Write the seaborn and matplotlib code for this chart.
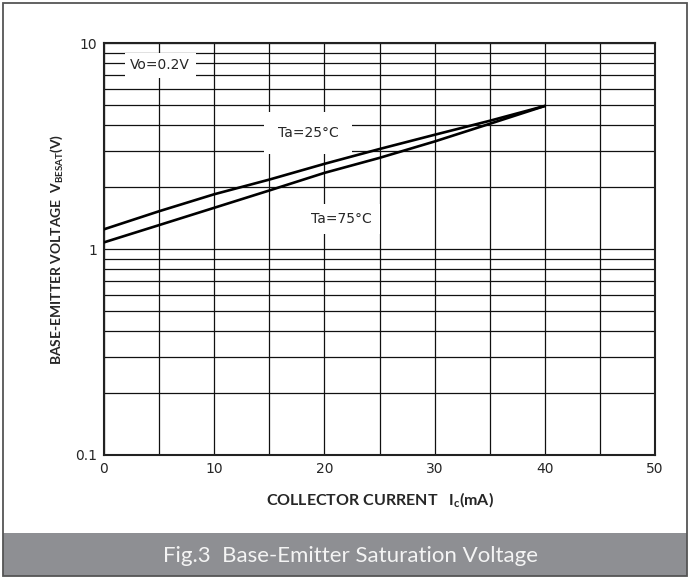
import matplotlib
matplotlib.use('Agg')
import matplotlib.pyplot as plt
import matplotlib.ticker as mticker
from matplotlib.patches import Rectangle
import pandas as pd
import seaborn as sns

# Data
current_ma = [0, 5, 10, 15, 20, 25, 30, 35, 40]
vbe_25c = [1.25, 1.53, 1.85, 2.18, 2.60, 3.07, 3.60, 4.21, 4.97]
vbe_75c = [1.08, 1.31, 1.59, 1.93, 2.35, 2.78, 3.34, 4.07, 4.97]
x_ticks = [0, 10, 20, 30, 40, 50]
y_ticks = [0.1, 1, 10]
y_tick_labels = ['0.1', '1', '10']

df = pd.DataFrame({
    'Ic': current_ma * 2,
    'Vbe': vbe_25c + vbe_75c,
    'Ta': ['25'] * len(current_ma) + ['75'] * len(current_ma),
})

sns.set_style('white')
plt.rcParams['font.family'] = ['DejaVu Sans']
plt.rcParams['mathtext.fontset'] = 'custom'
plt.rcParams['mathtext.rm'] = 'Lato'
plt.rcParams['mathtext.bf'] = 'Lato:bold'

fig = plt.figure(figsize=(6.91, 5.79), dpi=100)
ax = fig.add_axes([0.1505, 0.2142, 0.7975, 0.7107])

# outer frame + caption band
fig.patches.append(Rectangle((3 / 691, 3 / 579), 684 / 691, 43 / 579,
                             transform=fig.transFigure, facecolor='#8e8f93',
                             edgecolor='none', zorder=0))
fig.patches.append(Rectangle((3 / 691, 3 / 579), 684 / 691, 573 / 579,
                             transform=fig.transFigure, facecolor='none',
                             edgecolor='#555555', linewidth=1.3, zorder=1))
fig.text(0.507, 0.039, 'Fig.3  Base-Emitter Saturation Voltage', color='#f4f4f4',
         fontsize=16, family='Lato', ha='center', va='center')

sns.lineplot(data=df, x='Ic', y='Vbe', hue='Ta', palette=['black', 'black'],
             linewidth=1.9, legend=False, ax=ax, zorder=5)

ax.set_yscale('log')
ax.set_xlim(0, 50)
ax.set_ylim(0.1, 10)
ax.set_xticks(x_ticks)
ax.set_xticks(range(0, 51, 5), minor=True)
ax.set_yticks(y_ticks)
ax.set_yticklabels(y_tick_labels)
ax.yaxis.set_minor_locator(mticker.LogLocator(base=10, subs=range(2, 10)))
ax.yaxis.set_minor_formatter(mticker.NullFormatter())
ax.tick_params(which='both', length=0, labelsize=10, pad=5)
ax.grid(which='both', color='#111111', linewidth=0.9)
for s in ax.spines.values():
    s.set_linewidth(1.5)
    s.set_color('#222222')

ax.set_xlabel(r'COLLECTOR CURRENT   $\mathbf{I_c}$(mA)', family='Lato',
              fontweight='bold', fontsize=11.5, labelpad=10)
ax.set_ylabel(r'BASE-EMITTER VOLTAGE  $\mathbf{V_{BESAT}}$(V)', family='Lato',
              fontweight='bold', fontsize=10, labelpad=7)

ax.text(5.1, 7.85, 'Vo=0.2V', fontsize=10, ha='center', va='center', zorder=6,
        bbox=dict(facecolor='white', edgecolor='none', pad=4))
ax.text(18.5, 3.68, 'Ta=25°C', fontsize=10, ha='center', va='center', zorder=4,
        bbox=dict(facecolor='white', edgecolor='none', pad=10))
ax.text(21.5, 1.40, 'Ta=75°C', fontsize=10, ha='center', va='center', zorder=4,
        bbox=dict(facecolor='white', edgecolor='none', pad=6))

fig.savefig('out.png', dpi=100)
